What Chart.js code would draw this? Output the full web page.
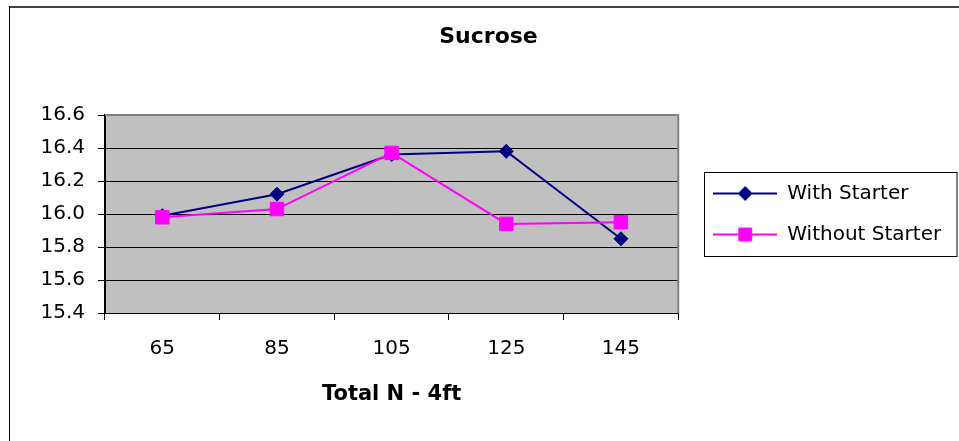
<!DOCTYPE html>
<html>
<head>
<meta charset="utf-8">
<title>Sucrose</title>
<script src="https://cdn.jsdelivr.net/npm/chart.js@4/dist/chart.umd.min.js"></script>
<style>
  html, body { margin: 0; padding: 0; background: #fff; }
  #wrap { width: 959px; height: 441px; }
</style>
</head>
<body>
<div id="wrap"><canvas id="chart" width="959" height="441"></canvas></div>
<script>
var categories = ['65', '85', '105', '125', '145'];
var withStarter = [15.99, 16.12, 16.36, 16.38, 15.85];
var withoutStarter = [15.98, 16.03, 16.37, 15.94, 15.95];
var yTicks = [15.4, 15.6, 15.8, 16.0, 16.2, 16.4, 16.6];

var navy = '#000080';
var magenta = '#FF00FF';

Chart.defaults.font.family = '"DejaVu Sans", sans-serif';
Chart.defaults.color = '#000';

// little line + marker picture for the legend, like Excel does it
function legendMarker(color, style, radius) {
  var c = document.createElement('canvas');
  c.width = 64;
  c.height = 20;
  var ctx = c.getContext('2d');
  ctx.strokeStyle = color;
  ctx.fillStyle = color;
  ctx.lineWidth = 2;
  ctx.beginPath();
  ctx.moveTo(0, 10);
  ctx.lineTo(64, 10);
  ctx.stroke();
  ctx.lineWidth = 1;
  Chart.helpers.drawPoint(ctx, { pointStyle: style, radius: radius, rotation: 0, borderWidth: 1 }, 32, 10);
  return c;
}

var markers = [
  legendMarker(navy, 'rectRot', 7),
  legendMarker(magenta, 'rect', 9)
];

var framePlugin = {
  id: 'frame',
  afterLayout: function (chart) {
    // legend sits a bit away from the plot in the original and runs to the edge
    var lg = chart.legend;
    lg.left += 14;
    lg.right = 957;
    lg.width = lg.right - lg.left;
    // title is centred on the whole frame, not on the padded box
    chart.titleBlock.left += 23;
    chart.titleBlock.right += 23;
  },
  beforeDraw: function (chart) {
    var ctx = chart.ctx;
    var a = chart.chartArea;
    ctx.save();
    ctx.fillStyle = '#C0C0C0';
    ctx.fillRect(a.left, a.top, a.right - a.left, a.bottom - a.top);
    // outer frame, only top and left are inside the picture
    ctx.strokeStyle = '#404040';
    ctx.lineWidth = 2;
    ctx.beginPath();
    ctx.moveTo(9, 7);
    ctx.lineTo(959, 7);
    ctx.stroke();
    ctx.strokeStyle = '#000';
    ctx.lineWidth = 1;
    ctx.beginPath();
    ctx.moveTo(9.5, 6);
    ctx.lineTo(9.5, 441);
    ctx.stroke();
    ctx.restore();
  },
  beforeDatasetsDraw: function (chart) {
    var ctx = chart.ctx;
    var a = chart.chartArea;
    ctx.save();
    ctx.strokeStyle = '#808080';
    ctx.lineWidth = 2;
    ctx.beginPath();
    ctx.moveTo(a.left, a.top);
    ctx.lineTo(a.right, a.top);
    ctx.lineTo(a.right, a.bottom);
    ctx.stroke();
    ctx.restore();
  },
  afterDraw: function (chart) {
    var ctx = chart.ctx;
    var lg = chart.legend;
    ctx.save();
    ctx.strokeStyle = '#000';
    ctx.lineWidth = 1;
    var x = Math.round(lg.left + 12) + 0.5;
    ctx.strokeRect(x, 172.5, 957 - x, 84);
    ctx.restore();
  }
};

var chart = new Chart(document.getElementById('chart'), {
  type: 'line',
  data: {
    labels: categories,
    datasets: [
      {
        label: 'With Starter',
        data: withStarter,
        borderColor: navy,
        backgroundColor: navy,
        borderWidth: 2,
        pointStyle: 'rectRot',
        pointRadius: 7,
        pointBorderWidth: 1,
        pointHoverRadius: 7,
        tension: 0,
        order: 1
      },
      {
        label: 'Without Starter',
        data: withoutStarter,
        borderColor: magenta,
        backgroundColor: magenta,
        borderWidth: 2,
        pointStyle: 'rect',
        pointRadius: 9.5,
        pointBorderWidth: 1,
        pointHoverRadius: 9.5,
        tension: 0,
        order: 0
      }
    ]
  },
  options: {
    responsive: false,
    devicePixelRatio: 1,
    animation: false,
    layout: { padding: { left: 40, right: 68, top: 0, bottom: 0 } },
    plugins: {
      tooltip: { enabled: false },
      title: {
        display: true,
        text: 'Sucrose',
        color: '#000',
        font: { size: 22, weight: 'bold' },
        padding: { top: 24, bottom: 64.6 }
      },
      legend: {
        position: 'right',
        fullSize: false,
        labels: {
          usePointStyle: true,
          pointStyleWidth: 64,
          padding: 21,
          color: '#000',
          font: { size: 20 },
          generateLabels: function (chart) {
            var items = Chart.defaults.plugins.legend.labels.generateLabels(chart);
            items.sort(function (a, b) { return a.datasetIndex - b.datasetIndex; });
            items.forEach(function (item) { item.pointStyle = markers[item.datasetIndex]; });
            return items;
          }
        }
      }
    },
    scales: {
      x: {
        offset: true,
        afterFit: function (scale) { scale.height = 128; },
        grid: {
          drawOnChartArea: false,
          drawTicks: true,
          tickLength: 7,
          tickColor: '#000',
          offset: true
        },
        border: { display: true, color: '#000', width: 1 },
        ticks: { font: { size: 20 }, color: '#000', padding: 17 },
        title: {
          display: true,
          text: 'Total N - 4ft',
          color: '#000',
          font: { size: 21, weight: 'bold' },
          padding: { top: 2, bottom: 34 }
        }
      },
      y: {
        min: 15.4,
        max: 16.6,
        afterFit: function (scale) { scale.width = 65; },
        afterBuildTicks: function (scale) {
          scale.ticks = yTicks.map(function (v) { return { value: v }; });
        },
        grid: {
          color: function (ctx) { return ctx.tick && ctx.tick.value === 16.6 ? '#808080' : '#000'; },
          lineWidth: 1,
          tickLength: 7,
          tickColor: '#000'
        },
        border: { display: true, color: '#000', width: 2 },
        ticks: {
          font: { size: 20 },
          color: '#000',
          padding: 13,
          callback: function (v) { return Number(v).toFixed(1); }
        }
      }
    }
  },
  plugins: [framePlugin]
});
</script>
</body>
</html>
